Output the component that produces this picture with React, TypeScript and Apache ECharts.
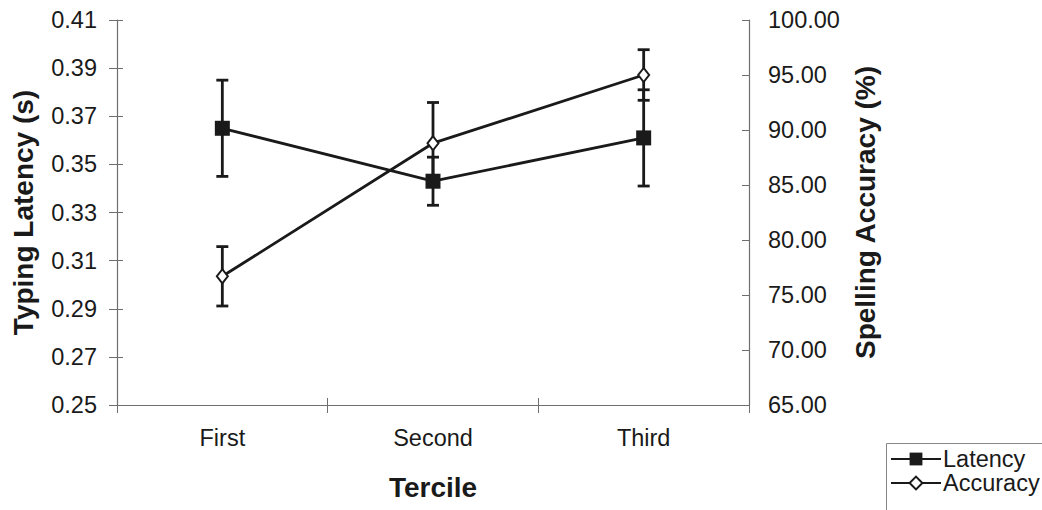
import React, { useEffect, useRef } from "react";
import * as echarts from "echarts";

const categories = ["First", "Second", "Third"];
const latency = [0.365, 0.343, 0.361];
const latencyErr = [0.02, 0.01, 0.02];
const accuracy = [76.7, 88.8, 95.0];
const accuracyErr = [2.7, 3.7, 2.3];
const latencyTicks = [0.25, 0.27, 0.29, 0.31, 0.33, 0.35, 0.37, 0.39, 0.41];

const INK = "#1a1a1a";
const AXIS = "#6e6e6e";
const FONT = "Liberation Sans, Arial, sans-serif";
const LABEL_SIZE = 23.5;
const TITLE_SIZE = 28;

function errorBar(params: any, api: any) {
  const x = api.value(0);
  const lo = api.coord([x, api.value(1)]);
  const hi = api.coord([x, api.value(2)]);
  const hw = 6;
  const style = { stroke: INK, lineWidth: 2.8 };
  return {
    type: "group",
    children: [
      { type: "line", shape: { x1: lo[0], y1: lo[1], x2: hi[0], y2: hi[1] }, style },
      { type: "line", shape: { x1: lo[0] - hw, y1: lo[1], x2: lo[0] + hw, y2: lo[1] }, style },
      { type: "line", shape: { x1: hi[0] - hw, y1: hi[1], x2: hi[0] + hw, y2: hi[1] }, style },
    ],
  };
}

export default function App() {
  const ref = useRef<HTMLDivElement>(null);
  useEffect(() => {
    document.body.style.margin = "0";
    const chart = echarts.init(ref.current!, null, { renderer: "svg" });
    const latErrData = latency.map((v, i) => [i, v - latencyErr[i], v + latencyErr[i]]);
    const accErrData = accuracy.map((v, i) => [i, v - accuracyErr[i], v + accuracyErr[i]]);
    chart.setOption({
      animation: false,
      backgroundColor: "#ffffff",
      textStyle: { fontFamily: FONT },
      grid: { left: 117, right: 293, top: 20, bottom: 105 },
      graphic: [
        {
          type: "rect",
          left: 884,
          top: 441,
          shape: { width: 200, height: 100 },
          style: { fill: "none", stroke: "#888", lineWidth: 1 },
          z: 0,
        },
      ],
      legend: {
        data: ["Latency", "Accuracy"],
        orient: "vertical",
        align: "left",
        left: 884,
        top: 441,
        padding: [6, 0, 0, 6],
        itemWidth: 50,
        itemHeight: 16,
        itemGap: 0,
        textStyle: { fontSize: LABEL_SIZE, color: INK, fontFamily: FONT, padding: [0, 0, 0, -3] },
      },
      xAxis: [
        {
          type: "category",
          data: categories,
          boundaryGap: true,
          name: "Tercile",
          nameLocation: "middle",
          nameGap: 68,
          nameTextStyle: { fontSize: TITLE_SIZE, fontWeight: "bold", color: INK, fontFamily: FONT },
          axisLine: { lineStyle: { color: AXIS, width: 1.2 } },
          axisTick: { show: true, alignWithLabel: false, length: 8, lineStyle: { color: AXIS } },
          axisLabel: { fontSize: LABEL_SIZE, color: INK, margin: 21, fontFamily: FONT },
          splitLine: { show: false },
        },
        {
          type: "category",
          data: categories,
          boundaryGap: true,
          position: "bottom",
          axisLine: { show: false },
          axisTick: { show: true, inside: true, alignWithLabel: false, length: 7, lineStyle: { color: AXIS } },
          axisLabel: { show: false },
          splitLine: { show: false },
        },
      ],
      yAxis: [
        {
          type: "value",
          min: 0.25,
          max: 0.41,
          position: "left",
          name: "Typing Latency (s)",
          nameLocation: "middle",
          nameRotate: 90,
          nameGap: 80,
          nameTextStyle: { fontSize: TITLE_SIZE, fontWeight: "bold", color: INK, fontFamily: FONT },
          axisLine: { show: true, lineStyle: { color: AXIS, width: 1.2 } },
          axisTick: { show: true, length: 8, lineStyle: { color: AXIS }, customValues: latencyTicks },
          axisLabel: {
            fontSize: LABEL_SIZE,
            color: INK,
            margin: 20,
            fontFamily: FONT,
            customValues: latencyTicks,
            formatter: (v: number) => v.toFixed(2),
          },
          splitLine: { show: false },
        },
        {
          type: "value",
          min: 65,
          max: 100,
          interval: 5,
          position: "right",
          name: "Spelling Accuracy (%)",
          nameLocation: "middle",
          nameRotate: 90,
          nameGap: 102,
          nameTextStyle: { fontSize: TITLE_SIZE, fontWeight: "bold", color: INK, fontFamily: FONT },
          axisLine: { show: true, lineStyle: { color: AXIS, width: 1.2 } },
          axisTick: { show: true, inside: true, length: 7, lineStyle: { color: AXIS } },
          axisLabel: {
            fontSize: LABEL_SIZE,
            color: INK,
            margin: 19,
            fontFamily: FONT,
            formatter: (v: number) => v.toFixed(2),
          },
          splitLine: { show: false },
        },
        {
          type: "value",
          min: 0.25,
          max: 0.41,
          position: "left",
          axisLine: { show: false },
          axisTick: { show: true, inside: true, length: 6, lineStyle: { color: AXIS }, customValues: latencyTicks },
          axisLabel: { show: false },
          splitLine: { show: false },
        },
      ],
      series: [
        {
          type: "custom",
          name: "LatencyErr",
          yAxisIndex: 0,
          renderItem: errorBar,
          encode: { x: 0, y: [1, 2] },
          data: latErrData,
          z: 1,
        },
        {
          type: "custom",
          name: "AccuracyErr",
          yAxisIndex: 1,
          renderItem: errorBar,
          encode: { x: 0, y: [1, 2] },
          data: accErrData,
          z: 1,
        },
        {
          type: "line",
          name: "Accuracy",
          yAxisIndex: 1,
          data: accuracy,
          symbol: "diamond",
          symbolSize: [11, 14],
          showAllSymbol: true,
          lineStyle: { color: INK, width: 2.8 },
          itemStyle: { color: "#ffffff", borderColor: INK, borderWidth: 2 },
          z: 3,
        },
        {
          type: "line",
          name: "Latency",
          yAxisIndex: 0,
          data: latency,
          symbol: "rect",
          symbolSize: 15,
          showAllSymbol: true,
          lineStyle: { color: INK, width: 2.8 },
          itemStyle: { color: INK, borderColor: INK, borderWidth: 0 },
          z: 4,
        },
      ],
    });
    return () => chart.dispose();
  }, []);
  return <div ref={ref} style={{ width: 1042, height: 510 }} />;
}
